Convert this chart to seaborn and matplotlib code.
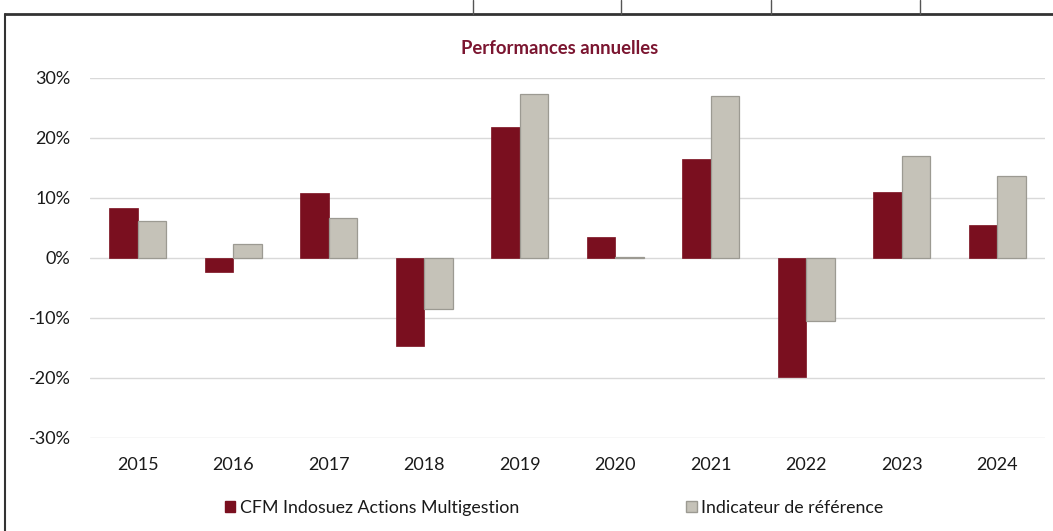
import matplotlib
matplotlib.use("Agg")
import matplotlib.pyplot as plt
import seaborn as sns
import pandas as pd
from matplotlib.patches import Patch
from matplotlib.lines import Line2D
from matplotlib.ticker import FuncFormatter, MultipleLocator

years = ["2015", "2016", "2017", "2018", "2019", "2020", "2021", "2022", "2023", "2024"]
fund_name = "CFM Indosuez Actions Multigestion"
ref_name = "Indicateur de référence"
fund_values = [8.3, -2.4, 10.9, -14.6, 21.8, 3.5, 16.5, -19.8, 11.0, 5.5]
ref_values = [6.2, 2.4, 6.6, -8.5, 27.3, 0.2, 27.0, -10.5, 17.0, 13.6]
title = "Performances annuelles"

fund_color = "#7A0F1F"
ref_color = "#C5C2B8"
title_color = "#7B1530"

sns.set_theme(style="white")
plt.rcParams['font.family'] = ['Lato', 'DejaVu Sans']

df = pd.DataFrame({
    "year": years * 2,
    "value": fund_values + ref_values,
    "series": [fund_name] * len(years) + [ref_name] * len(years),
})

fig = plt.figure(figsize=(10.53, 5.31), dpi=100)
ax = fig.add_axes([90 / 1053, 1 - 438 / 531, (1045 - 90) / 1053, (438 - 78) / 531])

sns.barplot(data=df, x="year", y="value", hue="series", order=years,
            hue_order=[fund_name, ref_name],
            palette=[fund_color, ref_color], width=0.6, ax=ax,
            legend=False, saturation=1)

# bar edges
for bar in ax.containers[1]:
    bar.set_edgecolor("#9C9A92")
    bar.set_linewidth(0.9)
for bar in ax.containers[0]:
    bar.set_edgecolor(fund_color)
    bar.set_linewidth(0.5)

ax.set_ylim(-30, 30)
ax.set_xlim(-0.5, len(years) - 0.5)
ax.yaxis.set_major_locator(MultipleLocator(10))
ax.yaxis.set_major_formatter(FuncFormatter(lambda v, p: f"{v:.0f}%"))
ax.grid(axis="y", color="#D9D9D9", linewidth=1.0)
ax.set_axisbelow(True)
for s in ax.spines.values():
    s.set_visible(False)
ax.set_xlabel("")
ax.set_ylabel("")
ax.tick_params(axis="both", length=0, labelsize=13, colors="#1a1a1a")
ax.tick_params(axis="y", pad=14)
ax.tick_params(axis="x", pad=14)

fig.text(560 / 1053, 1 - 48 / 531, title, ha="center", va="center",
         fontsize=13.3, fontweight="bold", color=title_color)

handles = [Patch(facecolor=fund_color, edgecolor=fund_color),
           Patch(facecolor=ref_color, edgecolor="#9C9A92")]
fig.legend(handles, [fund_name, ref_name], ncol=2, loc="center",
           bbox_to_anchor=(554 / 1053, 1 - 508 / 531), frameon=False,
           fontsize=12.8, handlelength=0.6, handleheight=0.6,
           handletextpad=0.25, columnspacing=9.4, labelcolor="#1a1a1a")

# frame remnants (page border and table above)
fig.add_artist(Line2D([5 / 1053, 5 / 1053], [0, 1 - 14 / 531], color="#333333", lw=1.5,
                      transform=fig.transFigure))
fig.add_artist(Line2D([5 / 1053, 1], [1 - 14 / 531, 1 - 14 / 531], color="#333333", lw=2.0,
                      transform=fig.transFigure))
for xv in [473, 621, 771, 920]:
    fig.add_artist(Line2D([xv / 1053, xv / 1053], [1 - 14 / 531, 1], color="#555555", lw=1.0,
                          transform=fig.transFigure))

fig.savefig("out.png", dpi=100, facecolor="white")
